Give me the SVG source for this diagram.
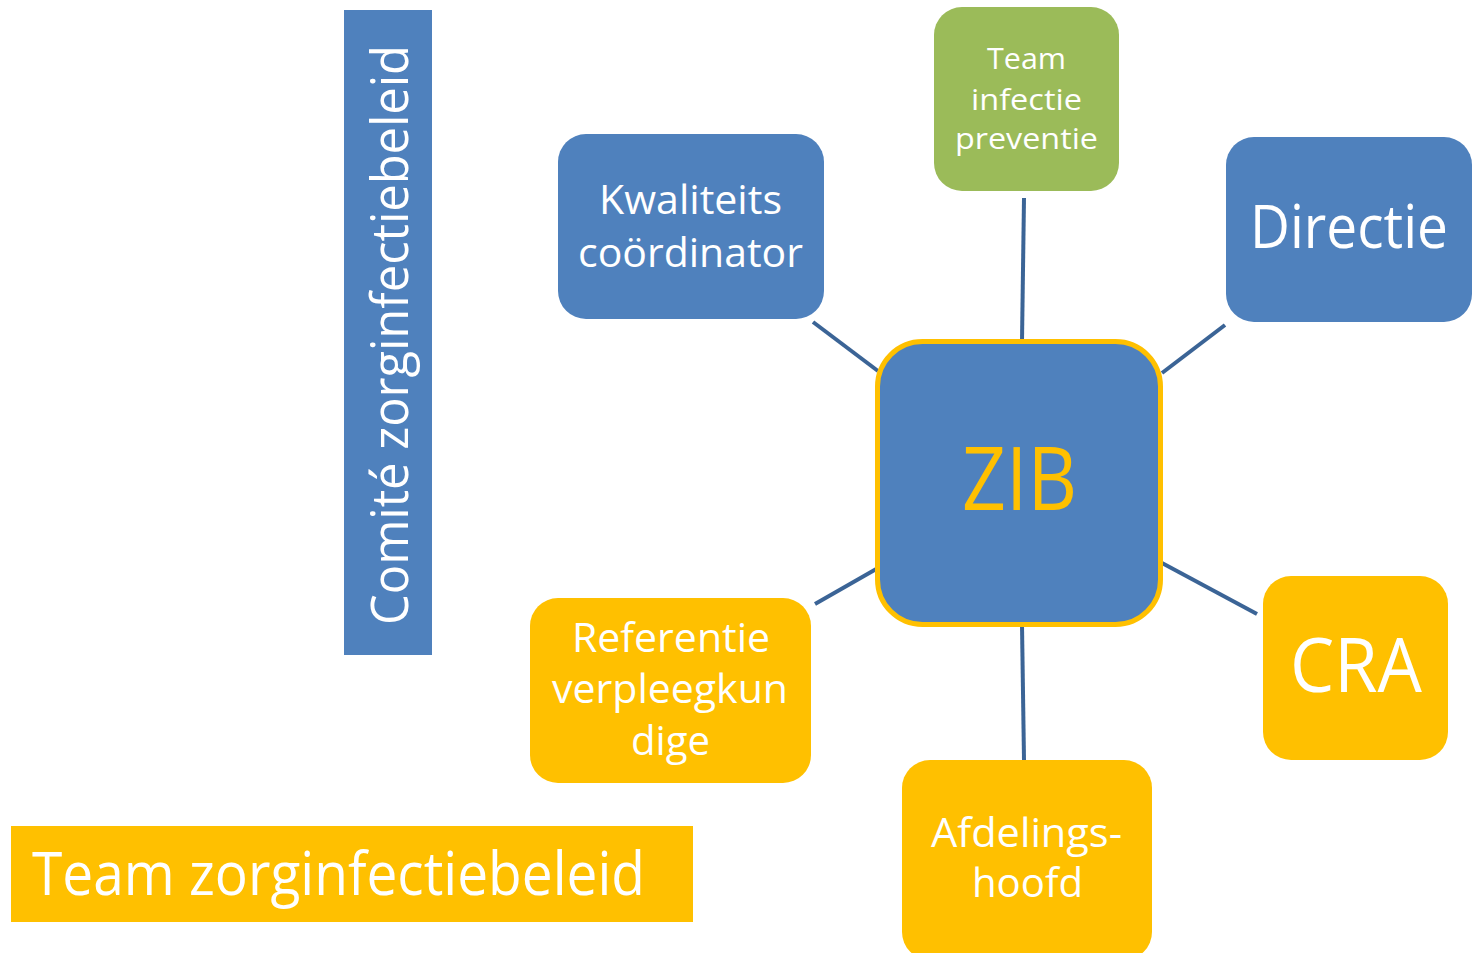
<svg xmlns="http://www.w3.org/2000/svg" width="1478" height="953" viewBox="0 0 1478 953">
<style>
.t{font-family:"Open Sans","Noto Sans","Liberation Sans",sans-serif;fill:#fff;text-anchor:middle}
.blue{fill:#4F81BD}
.yel{fill:#FFC000}
.grn{fill:#9BBB59}
.con line{stroke:#3B6496;stroke-width:4}
</style>
<rect width="1478" height="953" fill="#fff"/>
<g id="comite">
<rect class="blue" x="344" y="10" width="88" height="645"/>
<text class="t" transform="translate(408,335) rotate(-90)" font-size="52" textLength="580" lengthAdjust="spacingAndGlyphs">Comité zorginfectiebeleid</text>
</g>
<g id="team-zorg">
<rect class="yel" x="11" y="826" width="682" height="96"/>
<text class="t" x="338.5" y="895" font-size="60" textLength="613" lengthAdjust="spacingAndGlyphs">Team zorginfectiebeleid</text>
</g>
<g class="con" id="connectors">
<line x1="1024" y1="198" x2="1022" y2="341"/>
<line x1="813" y1="322" x2="878" y2="371"/>
<line x1="1225" y1="325" x2="1162" y2="373"/>
<line x1="815" y1="604" x2="878" y2="568"/>
<line x1="1162" y1="563" x2="1257" y2="614"/>
<line x1="1022" y1="625" x2="1024" y2="760"/>
</g>
<g id="kwaliteit">
<rect class="blue" x="558" y="134" width="266" height="185" rx="28"/>
<text class="t" x="690.5" y="214" font-size="40" textLength="183" lengthAdjust="spacingAndGlyphs">Kwaliteits</text>
<text class="t" x="690.5" y="267" font-size="40" textLength="225" lengthAdjust="spacingAndGlyphs">coördinator</text>
</g>
<g id="team-infectie">
<rect class="grn" x="934" y="7" width="185" height="184" rx="28"/>
<text class="t" x="1026.5" y="69" font-size="29" textLength="79" lengthAdjust="spacingAndGlyphs">Team</text>
<text class="t" x="1026.5" y="110" font-size="29" textLength="111" lengthAdjust="spacingAndGlyphs">infectie</text>
<text class="t" x="1026.5" y="149" font-size="29" textLength="143" lengthAdjust="spacingAndGlyphs">preventie</text>
</g>
<g id="directie">
<rect class="blue" x="1226" y="137" width="246" height="185" rx="28"/>
<text class="t" x="1349" y="248" font-size="60" textLength="198" lengthAdjust="spacingAndGlyphs">Directie</text>
</g>
<g id="zib">
<rect class="blue" x="877.5" y="341.5" width="283" height="283" rx="45" stroke="#FFC000" stroke-width="5"/>
<text class="t" x="1019.5" y="510" font-size="87" style="fill:#FFC000" textLength="115" lengthAdjust="spacingAndGlyphs">ZIB</text>
</g>
<g id="cra">
<rect class="yel" x="1263" y="576" width="185" height="184" rx="28"/>
<text class="t" x="1356" y="692" font-size="75" textLength="132" lengthAdjust="spacingAndGlyphs">CRA</text>
</g>
<g id="afdeling">
<rect class="yel" x="902" y="760" width="250" height="200" rx="28"/>
<text class="t" x="1026.5" y="847" font-size="40" textLength="191" lengthAdjust="spacingAndGlyphs">Afdelings-</text>
<text class="t" x="1027.5" y="897" font-size="40" textLength="111" lengthAdjust="spacingAndGlyphs">hoofd</text>
</g>
<g id="referentie">
<rect class="yel" x="530" y="598" width="281" height="185" rx="28"/>
<text class="t" x="671" y="652" font-size="40" textLength="198" lengthAdjust="spacingAndGlyphs">Referentie</text>
<text class="t" x="670" y="703" font-size="40" textLength="236" lengthAdjust="spacingAndGlyphs">verpleegkun</text>
<text class="t" x="670.5" y="755" font-size="40" textLength="79" lengthAdjust="spacingAndGlyphs">dige</text>
</g>
</svg>
